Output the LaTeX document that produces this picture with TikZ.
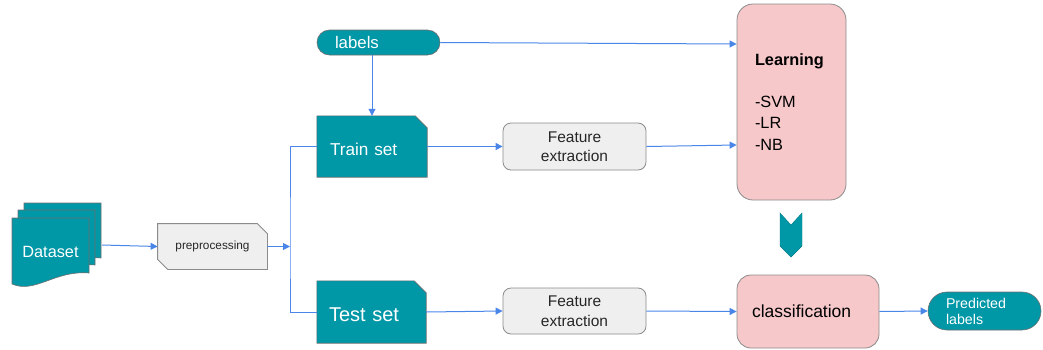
\documentclass[tikz,border=0pt]{standalone}
\usepackage{fontspec}
\setmainfont{Liberation Sans}
\usetikzlibrary{arrows.meta,backgrounds}
\definecolor{tealfill}{HTML}{0097A7}
\definecolor{pinkfill}{HTML}{F6C8CA}
\definecolor{greyfill}{HTML}{EFEFEF}
\definecolor{flow}{HTML}{4A86E8}
\definecolor{rim}{HTML}{6E6E6E}
\tikzset{
  flowline/.style={draw=flow, line width=1pt},
  flowarrow/.style={flowline, -{Triangle[length=7pt,width=7pt]}},
  tealshape/.style={fill=tealfill, draw=rim, line width=0.6pt},
  tealtext/.style={text=white, inner ysep=0pt, align=left},
  pinkbox/.style={rectangle, fill=pinkfill, draw=rim!80, line width=0.8pt, text=black, align=left},
  greybox/.style={rectangle, fill=greyfill, draw=rim!80, line width=0.8pt, text=black!85, align=center, inner sep=0pt},
  pill/.style={rectangle, fill=tealfill, draw=rim, line width=0.6pt, text=white, align=left, inner ysep=0pt},
}
\begin{document}
\begin{tikzpicture}[x=1pt,y=-1pt]
\useasboundingbox (0,0) rectangle (1043,349);

% ---- text holders for the custom outlines ----
\node[tealtext, minimum width=77pt, minimum height=60pt, text width=77pt, inner xsep=0pt, align=center,
      font=\fontsize{16.3}{19}\selectfont] (dataset) at (50.5,252) {Dataset};
\node[greybox, fill=none, draw=none, minimum width=109pt, minimum height=45pt,
      font=\fontsize{11.8}{13}\selectfont] (pre) at (212.5,246.5) {preprocessing};
\node[tealtext, minimum width=110pt, minimum height=61pt, text width=84pt, inner xsep=13pt,
      font=\fontsize{17.2}{20}\selectfont] (train) at (372,146.5)
      {\raisebox{-3pt}[\height][\depth]{Train set}};
\node[tealtext, minimum width=109pt, minimum height=62pt, text width=85pt, inner xsep=12pt,
      font=\fontsize{20}{23}\selectfont] (test) at (371.5,312)
      {\raisebox{-3pt}[\height][\depth]{Test set}};

\begin{scope}[on background layer]
  % stacked document sheets
  \foreach \dx/\dy in {12/-15, 6/-8, 0/0} {
    \filldraw[tealshape, shift={(\dx,\dy)}]
      (12,284) -- (12,218) -- (89,218) -- (89,273)
      .. controls (55,270) and (35,294) .. cycle;
  }
  % preprocessing card with two clipped corners
  \filldraw[fill=greyfill, draw=rim!80, line width=0.8pt]
    (pre.north west) -- ([xshift=-10pt]pre.north east) -- ([yshift=-10pt]pre.north east)
    -- (pre.south east) -- ([xshift=10pt]pre.south west) -- ([yshift=10pt]pre.south west) -- cycle;
  % train / test cards with a clipped corner
  \filldraw[tealshape]
    (train.south west) -- (train.north west) -- ([xshift=-12pt]train.north east)
    -- ([yshift=-12pt]train.north east) -- (train.south east) -- cycle;
  \filldraw[tealshape]
    (test.south west) -- (test.north west) -- ([xshift=-12pt]test.north east)
    -- ([yshift=-12pt]test.north east) -- (test.south east) -- cycle;
\end{scope}

% ---- boxes ----
\node[pill, rounded corners=12.5pt, minimum width=123pt, minimum height=25pt, text width=87pt, inner xsep=18pt,
      font=\fontsize{16.8}{19}\selectfont] (labels) at (378.5,42.5) {labels};
\node[greybox, rounded corners=8pt, minimum width=143pt, minimum height=47pt,
      font=\fontsize{15.5}{19.5}\selectfont] (fe1) at (574.5,146.5) {Feature\\extraction};
\node[greybox, rounded corners=8pt, minimum width=143pt, minimum height=46pt,
      font=\fontsize{15.5}{19.5}\selectfont] (fe2) at (574.5,311) {Feature\\extraction};
\node[pinkbox, rounded corners=16pt, minimum width=109pt, minimum height=196pt, text width=73pt, inner xsep=18pt,
      font=\fontsize{16.3}{21.5}\selectfont] (learning) at (791.5,102)
      {\textbf{Learning}\\[20.5pt]-SVM\\-LR\\-NB};
\node[pinkbox, rounded corners=14pt, minimum width=142pt, minimum height=73pt, text width=112pt, inner xsep=15pt,
      font=\fontsize{17.5}{20}\selectfont] (classif) at (808,311.5) {classification};
\node[pill, rounded corners=19pt, minimum width=113pt, minimum height=38pt, text width=77pt, inner xsep=18pt,
      font=\fontsize{14.2}{16}\selectfont] (predicted) at (984.5,311) {Predicted\\labels};

% chevron between learning and classification
\filldraw[tealshape, draw=tealfill!80!black, line width=0.4pt]
  (780,213) -- (791,225) -- (802,213) -- (802,246) -- (791,257) -- (780,246) -- cycle;

% ---- connectors ----
\coordinate (split) at (290,246.5);
\draw[flowarrow] ([xshift=13pt,yshift=7pt]dataset.east) -- (pre.west);
\draw[flowarrow] (pre.east) -- (split);
\draw[flowline] (train.west) -| (split) |- (test.west);
\draw[flowarrow] (train.north |- labels.south) -- (train.north);
\draw[flowarrow] (labels.east) -- ([yshift=58pt]learning.west);
\draw[flowarrow] (train.east) -- (fe1.west);
\draw[flowarrow] (fe1.east) -- ([yshift=-43pt]learning.west);
\draw[flowarrow] (test.east) -- (fe2.west);
\draw[flowarrow] (fe2.east) -- (classif.west);
\draw[flowarrow] (classif.east) -- (predicted.west);
\end{tikzpicture}
\end{document}
